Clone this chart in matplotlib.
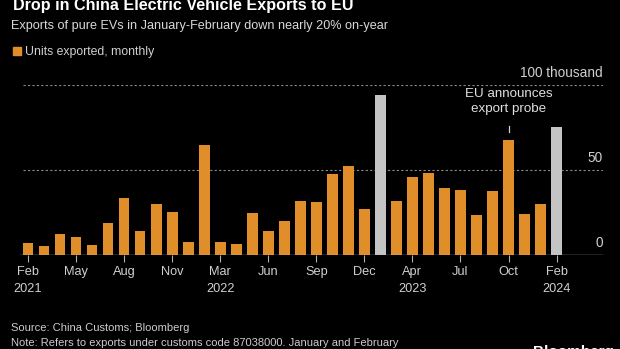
import numpy as np
import matplotlib
matplotlib.use("Agg")
from matplotlib import pyplot as plt

plt.rcParams['font.family'] = ['Liberation Sans', 'DejaVu Sans']

# monthly EV exports to EU, thousand units (Jan+Feb combined each year)
periods = ['Feb 2021', 'Mar 2021', 'Apr 2021', 'May 2021', 'Jun 2021', 'Jul 2021',
           'Aug 2021', 'Sep 2021', 'Oct 2021', 'Nov 2021', 'Dec 2021', 'Jan-Feb 2022',
           'Mar 2022', 'Apr 2022', 'May 2022', 'Jun 2022', 'Jul 2022', 'Aug 2022',
           'Sep 2022', 'Oct 2022', 'Nov 2022', 'Dec 2022', 'Jan-Feb 2023',
           'Mar 2023', 'Apr 2023', 'May 2023', 'Jun 2023', 'Jul 2023', 'Aug 2023',
           'Sep 2023', 'Oct 2023', 'Nov 2023', 'Dec 2023', 'Jan-Feb 2024']
units = [7.1, 5.1, 12.5, 10.8, 5.7, 18.8, 33.3, 14.1, 30.2, 25.1, 7.6, 64.7,
         7.8, 6.3, 24.5, 13.9, 20.0, 32.0, 31.2, 47.6, 52.2, 26.9, 94.1,
         32.0, 45.9, 48.2, 39.4, 38.4, 23.3, 37.6, 67.5, 24.1, 30.2, 75.5]
combined = ['Jan-Feb 2023', 'Jan-Feb 2024']

tick_pos = [0, 3, 6, 9, 12, 15, 18, 21, 24, 27, 30, 33]
tick_labels = ['Feb\n2021', 'May', 'Aug', 'Nov', 'Mar\n2022', 'Jun', 'Sep', 'Dec',
               'Apr\n2023', 'Jul', 'Oct', 'Feb\n2024']

ORANGE = '#E08E2A'
GREY = '#C4C4C4'
W, H = 620, 349

def fx(px):
    return px / W

def fy(py):
    return 1 - py / H

fig = plt.figure(figsize=(6.2, 3.49), dpi=100)
fig.set_facecolor('black')
ax = fig.add_axes([fx(20), fy(255), fx(603 - 20), (255 - 85) / H])
ax.set_facecolor('black')

x = np.arange(len(units))
colors = [GREY if p in combined else ORANGE for p in periods]
ax.bar(x, units, width=0.67, color=colors, zorder=2)

ax.set_xlim(-0.5, 35.9)
ax.set_ylim(0, 100)

for v in [50, 100]:
    ax.axhline(v, xmin=(3 / 583), color='#8a8a8a', lw=0.8, ls=(0, (2, 2)), zorder=1)
ax.axhline(0, color='#b0b0b0', lw=1.0, zorder=3)

for s in ax.spines.values():
    s.set_visible(False)
ax.set_yticks([])
ax.set_xticks(tick_pos)
ax.set_xticklabels(tick_labels, color='#d0d0d0', fontsize=9.2, linespacing=1.5)
ax.tick_params(axis='x', length=5, width=0.8, color='#b0b0b0', pad=3)

# y labels sit above the grid lines at right edge
ytr = ax.get_yaxis_transform()
ax.text(1.0, 104.5, '100 thousand', transform=ytr, ha='right', va='baseline',
        color='#d0d0d0', fontsize=9.8)
ax.text(1.0, 54.5, '50', transform=ytr, ha='right', va='baseline',
        color='#d0d0d0', fontsize=9.8)
ax.text(1.0, 4.7, '0', transform=ytr, ha='right', va='baseline',
        color='#d0d0d0', fontsize=9.8)

# annotation
ax.text(30, 92.8, 'EU announces', ha='center', va='baseline',
        color='#e0e0e0', fontsize=9.6)
ax.text(30, 84.3, 'export probe', ha='center', va='baseline',
        color='#e0e0e0', fontsize=9.6)
ax.plot([30, 30], [72.2, 75.7], color='#d0d0d0', lw=0.9, clip_on=False)

fig.text(fx(13), fy(10), 'Drop in China Electric Vehicle Exports to EU', color='white',
         fontsize=11.6, fontweight='bold', va='baseline')
fig.text(fx(11), fy(28.5), 'Exports of pure EVs in January-February down nearly 20% on-year',
         color='#d9d9d9', fontsize=9.1, va='baseline')
fig.patches.append(plt.Rectangle((fx(13), fy(55)), fx(7.5), 8 / H, color=ORANGE,
                                 transform=fig.transFigure, figure=fig))
fig.text(fx(25), fy(54.5), 'Units exported, monthly', color='#d0d0d0', fontsize=8.8,
         va='baseline')

fig.text(fx(11), fy(331), 'Source: China Customs; Bloomberg', color='#cccccc',
         fontsize=8.0, va='baseline')
fig.text(fx(11), fy(345.7), 'Note: Refers to exports under customs code 87038000. January and February',
         color='#cccccc', fontsize=8.0, va='baseline')
fig.text(fx(533), fy(345), 'Bloomberg', color='white', fontsize=11, fontweight='bold',
         va='top')

fig.savefig('out.png', dpi=100, facecolor='black')
